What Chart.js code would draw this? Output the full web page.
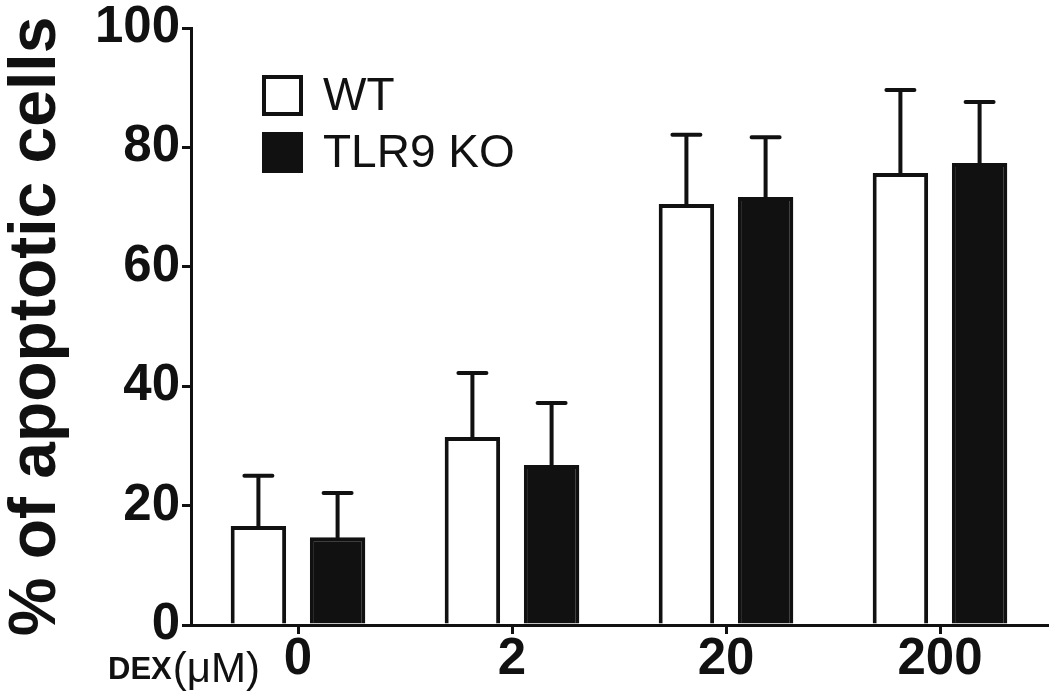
<!DOCTYPE html>
<html>
<head>
<meta charset="utf-8">
<script src="https://cdn.jsdelivr.net/npm/chart.js@4.4.1/dist/chart.umd.min.js"></script>
<style>
  html, body { margin: 0; padding: 0; background: #fff; }
  #wrap { width: 1050px; height: 697px; position: relative; }
</style>
</head>
<body>
<div id="wrap"><canvas id="apoptosisChart"></canvas></div>
<script>
const doses = ['0', '2', '20', '200'];
const wtMean = [16.6, 31.5, 70.5, 75.7];
const wtErr = [8.4, 10.7, 11.6, 13.9];
const koMean = [14.7, 26.8, 71.7, 77.4];
const koErr = [7.4, 10.4, 10.0, 10.2];
const yTicks = [0, 20, 40, 60, 80, 100];

const INK = '#111';
const FONT = '"Liberation Sans", Arial, sans-serif';

// upward-only error bars with a cap, like the GraphPad original
const errorBars = {
    id: 'errorBars',
    afterDatasetsDraw(chart) {
        const ctx = chart.ctx;
        const y = chart.scales.y;
        chart.data.datasets.forEach((ds, i) => {
            const meta = chart.getDatasetMeta(i);
            meta.data.forEach((bar, j) => {
                const top = y.getPixelForValue(ds.data[j] + ds.errors[j]);
                ctx.save();
                ctx.strokeStyle = INK;
                ctx.lineWidth = 4;
                ctx.lineCap = 'round';
                ctx.beginPath();
                ctx.moveTo(bar.x, bar.y);
                ctx.lineTo(bar.x, top);
                ctx.moveTo(bar.x - 14, top);
                ctx.lineTo(bar.x + 14, top);
                ctx.stroke();
                ctx.restore();
            });
        });
    }
};

const boxLegend = {
    id: 'boxLegend',
    afterDraw(chart) {
        const ctx = chart.ctx;
        ctx.save();
        chart.data.datasets.forEach((ds, i) => {
            const bx = 264, by = 77 + i * 57, size = 37;
            ctx.fillStyle = ds.backgroundColor;
            ctx.fillRect(bx, by, size, size);
            ctx.strokeStyle = INK;
            ctx.lineWidth = 4;
            ctx.strokeRect(bx, by, size, size);
            ctx.fillStyle = INK;
            ctx.font = '46px ' + FONT;
            ctx.textBaseline = 'middle';
            ctx.fillText(ds.label, 323, by + size / 2 + 2);
        });
        ctx.restore();
    }
};

const dexLabel = {
    id: 'dexLabel',
    afterDraw(chart) {
        const ctx = chart.ctx;
        ctx.save();
        ctx.fillStyle = INK;
        ctx.textBaseline = 'alphabetic';
        ctx.font = 'bold 31px ' + FONT;
        ctx.fillText('DEX', 108, 679);
        const w = ctx.measureText('DEX').width;
        ctx.font = '42px ' + FONT;
        ctx.fillText('(\u03bcM)', 108 + w + 1, 682);
        ctx.restore();
    }
};

new Chart(document.getElementById('apoptosisChart'), {
    type: 'bar',
    data: {
        labels: doses,
        datasets: [
            {
                label: 'WT',
                data: wtMean,
                errors: wtErr,
                backgroundColor: '#fff',
                borderColor: INK,
                borderWidth: 4
            },
            {
                label: 'TLR9 KO',
                data: koMean,
                errors: koErr,
                backgroundColor: INK,
                borderColor: INK,
                borderWidth: 4
            }
        ]
    },
    options: {
        responsive: true,
        maintainAspectRatio: false,
        animation: false,
        categoryPercentage: 0.74,
        barPercentage: 0.7,
        layout: { padding: { top: 28, right: 3, left: 0, bottom: 0 } },
        plugins: {
            legend: { display: false },
            tooltip: { enabled: false }
        },
        scales: {
            y: {
                min: 0,
                max: 100,
                afterBuildTicks: s => { s.ticks = yTicks.map(v => ({ value: v })); },
                afterFit: s => { s.width = 191; },
                border: { color: INK, width: 3 },
                grid: { drawOnChartArea: false, drawTicks: true, tickLength: 9, color: INK, lineWidth: 3 },
                ticks: {
                    color: INK,
                    padding: 2,
                    font: { family: FONT, size: 51, weight: 'bold', lineHeight: 1.0 }
                },
                title: {
                    display: true,
                    text: '% of apoptotic cells',
                    color: INK,
                    padding: { top: 0, bottom: 0 },
                    font: { family: FONT, size: 66, weight: 'bold', lineHeight: 1.1 }
                }
            },
            x: {
                afterFit: s => { s.height = 72; },
                border: { color: INK, width: 3 },
                grid: { offset: false, drawOnChartArea: false, drawTicks: true, tickLength: 9, color: INK, lineWidth: 3 },
                ticks: {
                    color: INK,
                    padding: 0,
                    font: { family: FONT, size: 51, weight: 'bold', lineHeight: 1.0 }
                }
            }
        }
    },
    plugins: [errorBars, boxLegend, dexLabel]
});
</script>
</body>
</html>
